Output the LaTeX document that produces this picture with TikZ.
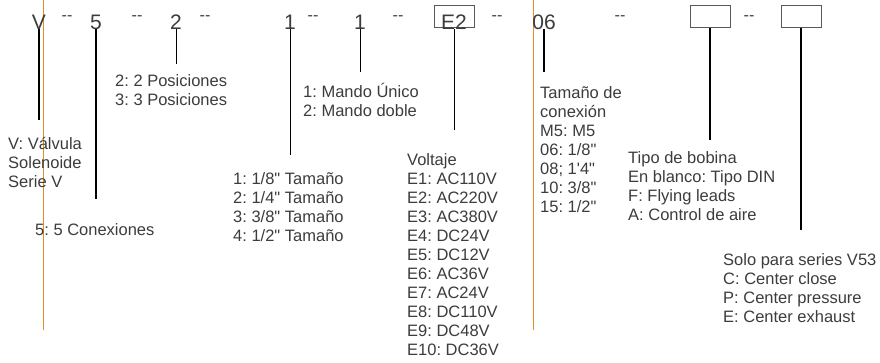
\documentclass[tikz,border=0pt]{standalone}
\usepackage{fontspec}
\setmainfont{Liberation Sans}[Ligatures=TeXOff]
\usetikzlibrary{positioning}
\definecolor{txtgray}{RGB}{60,60,60}
\definecolor{guide}{RGB}{228,140,40}
\frenchspacing

\begin{document}
\begin{tikzpicture}[x=1pt,y=-1pt,
    code/.style={font=\fontsize{21}{24}\selectfont, text=txtgray, inner sep=0pt, anchor=base},
    sepdash/.style={font=\fontsize{16}{19}\selectfont, text=txtgray, inner sep=0pt, anchor=base},
    desc/.style={font=\fontsize{16.5}{19}\selectfont, text=txtgray, align=left, inner sep=0pt, anchor=north west},
    codebox/.style={draw=black!65, line width=1pt, minimum width=40pt, minimum height=22pt, inner sep=0pt},
    lead/.style={line width=2pt},
    thinlead/.style={line width=0.8pt}]
    \useasboundingbox (0,0) rectangle (880,362);
    % guide lines
    \draw[guide, line width=1pt] (43,0) -- (43,330);
    \draw[guide, line width=1pt] (533,0) -- (533,330);
    % code row
    \node[code] (serie) at (39,29) {V};
    \node[code] (conex) at (96,29) {5};
    \node[code] (pos) at (176,29) {2};
    \node[code] (tam) at (290,29) {1};
    \node[code] (mando) at (360,29) {1};
    \node[codebox] (voltbox) at (454,16) {};
    \node[code] (volt) at (454,29) {E2};
    \node[code] (rosca) at (544,29) {06};
    \node[codebox] (bobina) at (710,16) {};
    \node[codebox] (centro) at (801,16) {};
    \foreach \x [count=\i] in {67,137,205,313,398,497,620,749}
        \node[sepdash] (dash\i) at (\x,20) {-{}-};
    % descriptions
    \node[desc] (serieTxt) at (8,137) {V: Válvula\\Solenoide\\Serie V};
    \node[desc] (conexTxt) at (35,223) {5: 5 Conexiones};
    \node[desc] (posTxt) at (115,74) {2: 2 Posiciones\\3: 3 Posiciones};
    \node[desc] (tamTxt) at (233,172) {1: 1/8" Tamaño\\2: 1/4" Tamaño\\3: 3/8" Tamaño\\4: 1/2" Tamaño};
    \node[desc] (mandoTxt) at (303,83) {1: Mando Único\\2: Mando doble};
    \node[desc] (voltTxt) at (407,153) {Voltaje\\E1: AC110V\\E2: AC220V\\E3: AC380V\\E4: DC24V\\E5: DC12V\\E6: AC36V\\E7: AC24V\\E8: DC110V\\E9: DC48V\\E10: DC36V};
    \node[desc] (roscaTxt) at (540,86) {Tamaño de\\conexión\\M5: M5\\06: 1/8"\\08; 1'4"\\10: 3/8"\\15: 1/2"};
    \node[desc] (bobinaTxt) at (628,151) {Tipo de bobina\\En blanco: Tipo DIN\\F: Flying leads\\A: Control de aire};
    \node[desc] (centroTxt) at (723,253) {Solo para series V53\\C: Center close\\P: Center pressure\\E: Center exhaust};
    % leader ends
    \coordinate (serieEnd) at (39,120);
    \coordinate (conexEnd) at (96,199);
    \coordinate (posEnd) at (176,64);
    \coordinate (tamEnd) at (290,155);
    \coordinate (mandoEnd) at (360,72);
    \coordinate (voltEnd) at (454,130);
    \coordinate (roscaEnd) at (544,72);
    \coordinate (bobinaEnd) at (710,140);
    \coordinate (centroEnd) at (801,230);
    % leaders
    \draw[lead] (serie.south) -- (serieEnd);
    \draw[lead] (conex.south) -- (conexEnd);
    \draw[thinlead] (pos.south) -- (posEnd);
    \draw[thinlead] (tam.south) -- (tamEnd);
    \draw[thinlead] (mando.south) -- (mandoEnd);
    \draw[thinlead] (volt.south) -- (voltEnd);
    \draw[lead] (rosca.south) -- (roscaEnd);
    \draw[lead] (bobina.south) -- (bobinaEnd);
    \draw[lead] (centro.south) -- (centroEnd);
\end{tikzpicture}
\end{document}
